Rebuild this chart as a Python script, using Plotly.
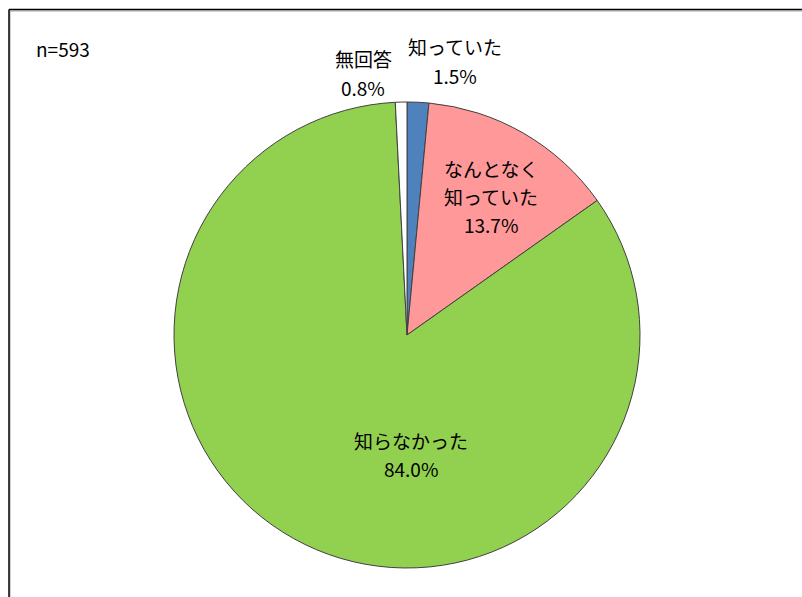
import plotly.graph_objects as go

# Survey response breakdown
categories = ["知っていた", "なんとなく知っていた", "知らなかった", "無回答"]
percentages = [1.5, 13.7, 84.0, 0.8]
slice_colors = ["#4F81BD", "#FF9999", "#92D050", "#FFFFFF"]
sample_note = "n=593"

W, H = 802, 597
CX, CY, R = 407, 335, 233

def px(x):
    return x / W

def py(y):
    return 1 - y / H

fig = go.Figure(
    go.Pie(
        labels=categories,
        values=percentages,
        sort=False,
        direction="clockwise",
        rotation=0,
        marker=dict(colors=slice_colors, line=dict(color="#404040", width=1)),
        textinfo="none",
        hoverinfo="label+percent",
        showlegend=False,
        domain=dict(x=[px(CX - R), px(CX + R)], y=[py(CY + R), py(CY - R)]),
    )
)

# label text: each category name (split into lines) with its percentage below
label_lines = [
    ["知っていた", f"{percentages[0]:.1f}%"],
    ["なんとなく", "知っていた", f"{percentages[1]:.1f}%"],
    ["知らなかった", f"{percentages[2]:.1f}%"],
    ["無回答", f"{percentages[3]:.1f}%"],
]
label_anchor = [(455, 47), (491, 168), (411, 440), (363, 59)]
line_gap = 28.5

font = dict(family="Noto Sans CJK JP, sans-serif", size=19, color="#000000")
annotations = []
for lines, (ax, ay) in zip(label_lines, label_anchor):
    for i, txt in enumerate(lines):
        annotations.append(
            dict(
                text=txt,
                x=px(ax),
                y=py(ay + i * line_gap),
                xref="paper",
                yref="paper",
                showarrow=False,
                xanchor="center",
                yanchor="middle",
                font=font,
            )
        )

annotations.append(
    dict(
        text=sample_note,
        x=px(34),
        y=py(48),
        xref="paper",
        yref="paper",
        showarrow=False,
        xanchor="left",
        yanchor="middle",
        font=dict(family="Noto Sans CJK JP, sans-serif", size=19, color="#000000"),
    )
)

# outer frame (black line with a soft gray shadow inside)
shapes = [
    dict(type="line", xref="paper", yref="paper",
         x0=px(10), y0=py(11), x1=1.02, y1=py(11),
         line=dict(color="#A6A6A6", width=1)),
    dict(type="line", xref="paper", yref="paper",
         x0=px(10), y0=py(11), x1=px(10), y1=-0.02,
         line=dict(color="#A6A6A6", width=1)),
    dict(type="line", xref="paper", yref="paper",
         x0=px(9), y0=py(9.5), x1=1.02, y1=py(9.5),
         line=dict(color="#000000", width=1.5)),
    dict(type="line", xref="paper", yref="paper",
         x0=px(9), y0=py(9.5), x1=px(9), y1=-0.02,
         line=dict(color="#000000", width=1.5)),
]

fig.update_layout(
    width=W,
    height=H,
    margin=dict(l=0, r=0, t=0, b=0),
    paper_bgcolor="#FFFFFF",
    plot_bgcolor="#FFFFFF",
    annotations=annotations,
    shapes=shapes,
)

fig.write_html("out.html")
